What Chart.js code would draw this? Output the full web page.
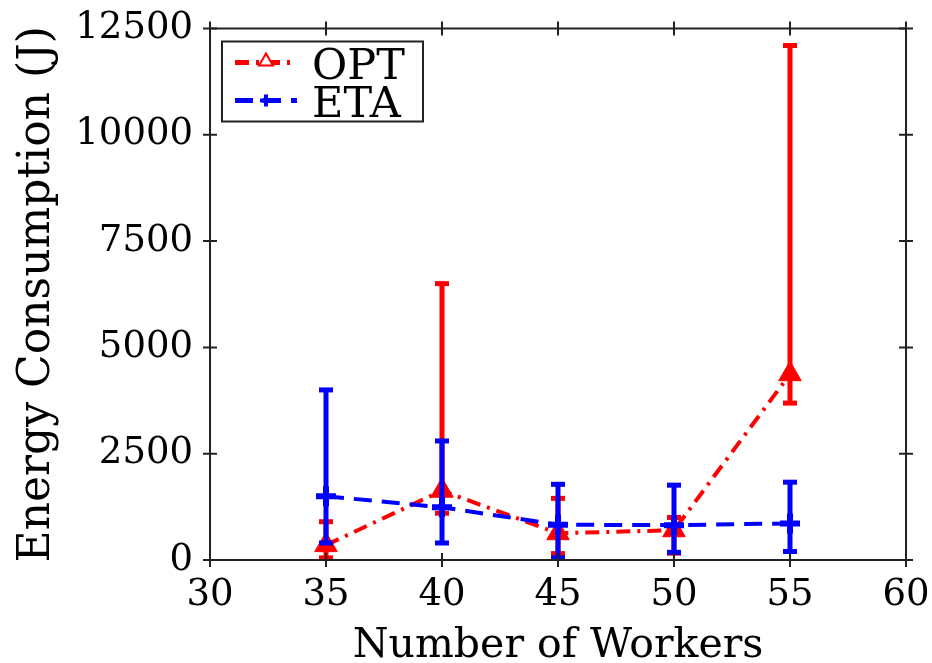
<!DOCTYPE html>
<html>
<head>
<meta charset="utf-8">
<script src="https://cdn.jsdelivr.net/npm/chart.js@4/dist/chart.umd.min.js"></script>
<style>
  html, body { margin: 0; padding: 0; background: #fff; }
  canvas { display: block; }
</style>
</head>
<body>
<canvas id="chart" width="932" height="663"></canvas>
<script>
// workers on the x axis, energy (J) per method with min/max spread
const workers = [35, 40, 45, 50, 55];
const optMean = [350, 1630, 630, 700, 4370];
const optLow = [50, 1100, 150, 160, 3690];
const optHigh = [900, 6500, 1450, 1000, 12100];
const etaMean = [1500, 1240, 830, 820, 860];
const etaLow = [400, 400, 50, 180, 200];
const etaHigh = [4000, 2800, 1780, 1760, 1830];
const xTicks = [30, 35, 40, 45, 50, 55, 60];
const yTicks = [0, 2500, 5000, 7500, 10000, 12500];

const SERIF = '"DejaVu Serif", "Liberation Serif", "Times New Roman", serif';
const FRAME = '#222';

function points(ys) {
  return workers.map((w, i) => ({ x: w, y: ys[i] }));
}

// vertical error bars with flat caps, drawn right after each dataset
const errorBars = {
  id: 'errorBars',
  afterDatasetDraw(chart, args) {
    const ds = chart.data.datasets[args.index];
    if (!ds.errLow) return;
    const ctx = chart.ctx;
    const xs = chart.scales.x, ys = chart.scales.y;
    ctx.save();
    ctx.strokeStyle = ds.borderColor;
    ctx.fillStyle = ds.borderColor;
    ctx.lineWidth = 5;
    ctx.setLineDash([]);
    ds.data.forEach((p, i) => {
      const x = xs.getPixelForValue(p.x);
      const lo = ys.getPixelForValue(ds.errLow[i]);
      const hi = ys.getPixelForValue(ds.errHigh[i]);
      ctx.beginPath();
      ctx.moveTo(x, lo);
      ctx.lineTo(x, hi);
      ctx.stroke();
      ctx.fillRect(x - 7, hi - 2.5, 14, 5);
      ctx.fillRect(x - 7, lo - 2.5, 14, 5);
    });
    ctx.restore();
  }
};

// box frame with ticks crossing every side
const frame = {
  id: 'frame',
  afterDraw(chart) {
    const { ctx, chartArea: a } = chart;
    const xs = chart.scales.x, ys = chart.scales.y;
    const t = 7;
    ctx.save();
    ctx.strokeStyle = FRAME;
    ctx.lineWidth = 2;
    ctx.strokeRect(a.left, a.top, a.right - a.left, a.bottom - a.top);
    ctx.beginPath();
    xTicks.forEach(v => {
      const x = xs.getPixelForValue(v);
      ctx.moveTo(x, a.bottom - t); ctx.lineTo(x, a.bottom + t);
      ctx.moveTo(x, a.top - t); ctx.lineTo(x, a.top + t);
    });
    yTicks.forEach(v => {
      const y = ys.getPixelForValue(v);
      ctx.moveTo(a.left - t, y); ctx.lineTo(a.left + t, y);
      ctx.moveTo(a.right - t, y); ctx.lineTo(a.right + t, y);
    });
    ctx.stroke();
    ctx.restore();
  }
};

// legend box in the upper left corner of the plot
const boxLegend = {
  id: 'boxLegend',
  afterDraw(chart) {
    const ctx = chart.ctx;
    const a = chart.chartArea;
    const bx = a.left + 12, by = a.top + 13, bw = 201, bh = 80;
    ctx.save();
    ctx.fillStyle = '#fff';
    ctx.fillRect(bx, by, bw, bh);
    ctx.strokeStyle = FRAME;
    ctx.lineWidth = 2;
    ctx.strokeRect(bx, by, bw, bh);
    chart.data.datasets.forEach((ds, i) => {
      const y = by + 21 + i * 38;
      const x0 = bx + 13, x1 = bx + 75;
      ctx.strokeStyle = ds.borderColor;
      ctx.fillStyle = ds.borderColor;
      ctx.lineWidth = 5;
      ctx.setLineDash(ds.borderDash);
      ctx.beginPath();
      ctx.moveTo(x0, y);
      ctx.lineTo(x1, y);
      ctx.stroke();
      ctx.setLineDash([]);
      const mx = (x0 + x1) / 2;
      if (ds.pointStyle === 'triangle') {
        ctx.fillStyle = '#fff';
        ctx.lineWidth = 2;
        Chart.helpers.drawPoint(ctx, { pointStyle: 'triangle', radius: 8, borderWidth: 2, rotation: 0 }, mx, y - 1);
      } else {
        ctx.lineWidth = 4;
        Chart.helpers.drawPoint(ctx, { pointStyle: 'cross', radius: 6, borderWidth: 4, rotation: 0 }, mx, y);
      }
      ctx.fillStyle = '#000';
      ctx.font = '43px ' + SERIF;
      ctx.textBaseline = 'alphabetic';
      ctx.fillText(ds.label, bx + 90, y + 16);
    });
    ctx.restore();
  }
};

new Chart(document.getElementById('chart'), {
  type: 'line',
  data: {
    datasets: [
      {
        label: 'OPT',
        data: points(optMean),
        errLow: optLow,
        errHigh: optHigh,
        borderColor: '#ff0000',
        backgroundColor: '#ff0000',
        borderWidth: 4,
        borderDash: [14, 7, 3, 7],
        pointStyle: 'triangle',
        pointRadius: 13,
        pointBorderWidth: 1,
        tension: 0,
        order: 2
      },
      {
        label: 'ETA',
        data: points(etaMean),
        errLow: etaLow,
        errHigh: etaHigh,
        borderColor: '#0000ff',
        backgroundColor: '#0000ff',
        borderWidth: 4,
        borderDash: [18, 10],
        pointStyle: 'cross',
        pointRadius: 10,
        pointBorderWidth: 6,
        tension: 0,
        order: 1
      }
    ]
  },
  options: {
    responsive: false,
    animation: false,
    devicePixelRatio: 1,
    layout: { padding: { top: 25, right: 26, left: 0, bottom: 0 } },
    plugins: { legend: { display: false }, tooltip: { enabled: false } },
    scales: {
      x: {
        type: 'linear',
        min: 30,
        max: 60,
        afterBuildTicks: s => { s.ticks = xTicks.map(v => ({ value: v })); },
        afterFit: s => { s.height = 103; s.paddingLeft = 0; s.paddingRight = 0; },
        grid: { drawOnChartArea: false, tickLength: 7, tickColor: 'rgba(0,0,0,0)' },
        border: { display: false },
        ticks: { color: '#000', font: { family: SERIF, size: 37, lineHeight: 1 }, padding: 10, maxRotation: 0, callback: v => String(v) },
        title: {
          display: true,
          text: 'Number of Workers',
          color: '#000',
          font: { family: SERIF, size: 41 },
          padding: { top: 0, bottom: -8 }
        }
      },
      y: {
        min: 0,
        max: 12500,
        afterBuildTicks: s => { s.ticks = yTicks.map(v => ({ value: v })); },
        afterFit: s => { s.width = 210; },
        grid: { drawOnChartArea: false, tickLength: 7, tickColor: 'rgba(0,0,0,0)' },
        border: { display: false },
        ticks: { color: '#000', font: { family: SERIF, size: 37, lineHeight: 1 }, padding: 10, callback: v => String(v) },
        title: {
          display: true,
          text: 'Energy Consumption (J)',
          color: '#000',
          font: { family: SERIF, size: 44 },
          padding: { top: 11, bottom: 0 }
        }
      }
    }
  },
  plugins: [errorBars, frame, boxLegend]
});
</script>
</body>
</html>
